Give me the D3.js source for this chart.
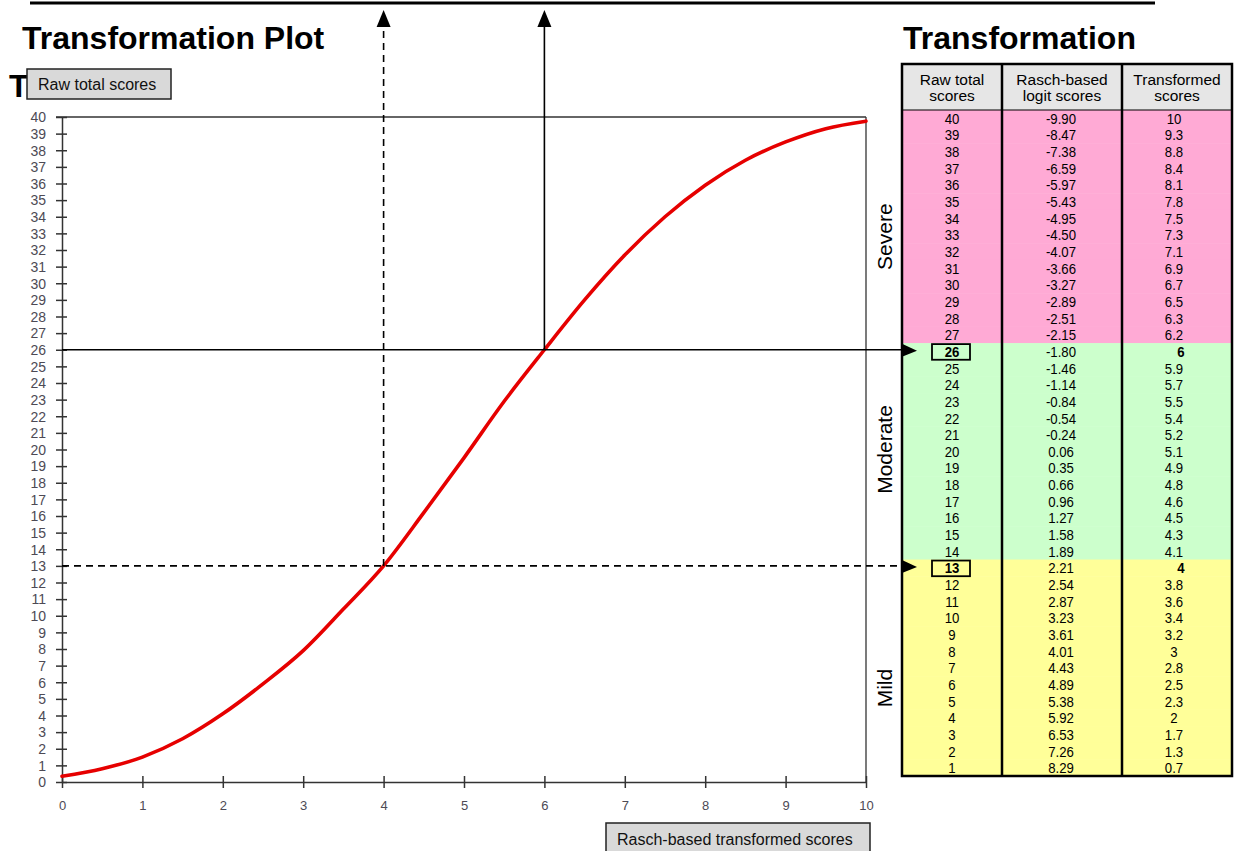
<!DOCTYPE html>
<html>
<head>
<meta charset="utf-8">
<script src="https://cdn.jsdelivr.net/npm/d3@7"></script>
<style>
  html, body { margin: 0; padding: 0; background: #fff; }
  svg { display: block; font-family: Arial, "Liberation Sans", sans-serif; }
</style>
</head>
<body>
<svg id="chart" width="1234" height="851"></svg>
<script>
// ---------------- DATA ----------------
const rawScores = [40,39,38,37,36,35,34,33,32,31,30,29,28,27,26,25,24,23,22,21,20,19,18,17,16,15,14,13,12,11,10,9,8,7,6,5,4,3,2,1];
const logitScores = ["-9.90","-8.47","-7.38","-6.59","-5.97","-5.43","-4.95","-4.50","-4.07","-3.66","-3.27","-2.89","-2.51","-2.15","-1.80","-1.46","-1.14","-0.84","-0.54","-0.24","0.06","0.35","0.66","0.96","1.27","1.58","1.89","2.21","2.54","2.87","3.23","3.61","4.01","4.43","4.89","5.38","5.92","6.53","7.26","8.29"];
const transformedScores = ["10","9.3","8.8","8.4","8.1","7.8","7.5","7.3","7.1","6.9","6.7","6.5","6.3","6.2","6","5.9","5.7","5.5","5.4","5.2","5.1","4.9","4.8","4.6","4.5","4.3","4.1","4","3.8","3.6","3.4","3.2","3","2.8","2.5","2.3","2","1.7","1.3","0.7"];
const severityNames = ["Severe","Moderate","Mild"];
const severityMin = [27,14,1];
const severityMax = [40,26,13];
const severityColors = ["#ffaad5","#ccffcc","#ffff99"];
const highlightedRaw = [26,13];           // cut-off points
const highlightedTransformed = [6,4];
const cutoffDashed = [false,true];
// transformation curve (transformed score -> raw score)
const curveX = [0,0.5,1,1.5,2,2.5,3,3.5,4,4.5,5,5.5,6,6.5,7,7.5,8,8.5,9,9.5,10];
const curveY = [0.35,0.8,1.5,2.6,4.1,5.9,7.9,10.4,13,16.2,19.5,22.9,26,29,31.7,34,35.9,37.4,38.5,39.3,39.75];
const xTicks = [0,1,2,3,4,5,6,7,8,9,10];
const yTicks = [0,1,2,3,4,5,6,7,8,9,10,11,12,13,14,15,16,17,18,19,20,21,22,23,24,25,26,27,28,29,30,31,32,33,34,35,36,37,38,39,40];
const tableHeaders = [["Raw total","scores"],["Rasch-based","logit scores"],["Transformed","scores"]];

// ---------------- LAYOUT ----------------
const svg = d3.select("#chart");
const x = d3.scaleLinear().domain([0,10]).range([62,866]);
const y = d3.scaleLinear().domain([0,40]).range([782,117]);
const axisColor = "#333";
const tickColor = "#4d4a55";

// top rule
svg.append("line").attr("x1",30).attr("x2",1155).attr("y1",3).attr("y2",3)
  .attr("stroke","#000").attr("stroke-width",3);

// titles
svg.append("text").attr("x",22).attr("y",49).attr("font-size",32).attr("font-weight","bold").text("Transformation Plot");
svg.append("text").attr("x",903).attr("y",49).attr("font-size",32).attr("font-weight","bold").text("Transformation");
svg.append("text").attr("x",9).attr("y",97).attr("font-size",32).attr("font-weight","bold").text("T");

// frame (top and right)
svg.append("line").attr("x1",x(0)-6).attr("x2",x(10)).attr("y1",y(40)).attr("y2",y(40)).attr("stroke",axisColor).attr("stroke-width",1.3);
svg.append("line").attr("x1",x(10)).attr("x2",x(10)).attr("y1",y(40)).attr("y2",y(0)).attr("stroke",axisColor).attr("stroke-width",1.3);

// axes
const yAxis = d3.axisLeft(y).tickValues(yTicks).tickSize(0).tickPadding(0).tickFormat(d3.format("d"));
const gy = svg.append("g").attr("transform",`translate(${x(0)},0)`).call(yAxis);
gy.select(".domain").attr("stroke",axisColor).attr("stroke-width",1.5);
gy.selectAll(".tick line").attr("x1",-6).attr("x2",5).attr("stroke",axisColor).attr("stroke-width",1.5);
gy.selectAll(".tick text").attr("x",-16).attr("dy","0.34em").attr("font-size",14).attr("fill",tickColor).attr("font-family","Arial, 'Liberation Sans', sans-serif");

const xAxis = d3.axisBottom(x).tickValues(xTicks).tickSize(0).tickPadding(0).tickFormat(d3.format("d"));
const gx = svg.append("g").attr("transform",`translate(0,${y(0)})`).call(xAxis);
gx.select(".domain").attr("stroke",axisColor).attr("stroke-width",1.5);
gx.selectAll(".tick line").attr("y1",-6).attr("y2",6).attr("stroke",axisColor).attr("stroke-width",1.5);
gx.selectAll(".tick text").attr("y",24).attr("dy","0.34em").attr("font-size",13).attr("fill",tickColor).attr("font-family","Arial, 'Liberation Sans', sans-serif");

// curve
const curvePts = curveX.map((d,i)=>[d,curveY[i]]);
svg.append("path").datum(curvePts)
  .attr("d", d3.line().x(d=>x(d[0])).y(d=>y(d[1])).curve(d3.curveMonotoneX))
  .attr("fill","none").attr("stroke","#e60000").attr("stroke-width",3.6).attr("stroke-linecap","round");

// ---------------- TABLE ----------------
const colEdges = [902,1002,1122,1232];
const colCenters = [952,1061,1174];
const headerTop = 64, bodyTop = 110, bodyBottom = 776;
const rowBand = d3.scaleBand().domain(rawScores).range([bodyTop, bodyBottom]);
const narrow = 0.88;

function ntext(g, cx, cy, t, size, bold, sx){
  return g.append("text").attr("transform",`translate(${cx},${cy}) scale(${sx},1)`)
    .attr("text-anchor","middle").attr("font-size",size).attr("font-weight",bold?"bold":"normal").text(t);
}

// header
svg.append("rect").attr("x",colEdges[0]).attr("y",headerTop).attr("width",colEdges[3]-colEdges[0]).attr("height",bodyTop-headerTop).attr("fill","#e6e6e6");
tableHeaders.forEach((lines,i)=>{
  lines.forEach((t,j)=>{
    ntext(svg,(colEdges[i]+colEdges[i+1])/2, 85+j*16, t, 15.5, false, 1);
  });
});

// severity row colours
rawScores.forEach(r=>{
  const k = severityMin.findIndex((m,i)=> r>=m && r<=severityMax[i]);
  svg.append("rect").attr("x",colEdges[0]).attr("y",rowBand(r)).attr("width",colEdges[3]-colEdges[0])
    .attr("height",rowBand.bandwidth()+0.5).attr("fill",severityColors[k]);
});

// cells
const rowG = svg.append("g");
rawScores.forEach((r,i)=>{
  const cy = rowBand(r)+rowBand.bandwidth()/2 + 5.5;
  const hl = highlightedRaw.indexOf(r);
  ntext(rowG, colCenters[0], cy, r, 15, hl>=0, narrow);
  ntext(rowG, colCenters[1], cy, logitScores[i], 15, false, narrow);
  ntext(rowG, colCenters[2] + (hl>=0?7:0), cy, transformedScores[i], 15, hl>=0, narrow);
  if (hl>=0) {
    rowG.append("rect").attr("x",932).attr("y",rowBand(r)+1).attr("width",38).attr("height",rowBand.bandwidth()-1)
      .attr("fill","none").attr("stroke","#000").attr("stroke-width",1.8);
  }
});

// table borders
svg.append("rect").attr("x",colEdges[0]).attr("y",headerTop).attr("width",colEdges[3]-colEdges[0]).attr("height",bodyBottom-headerTop)
  .attr("fill","none").attr("stroke","#000").attr("stroke-width",2.5);
svg.append("line").attr("x1",colEdges[0]).attr("x2",colEdges[3]).attr("y1",bodyTop).attr("y2",bodyTop).attr("stroke","#000").attr("stroke-width",1.2);
[1,2].forEach(i=>{
  svg.append("line").attr("x1",colEdges[i]).attr("x2",colEdges[i]).attr("y1",headerTop).attr("y2",bodyBottom)
    .attr("stroke","#000").attr("stroke-width",2.5);
});

// severity labels
const labelAt = [32.8,20,5.65];
severityNames.forEach((s,i)=>{
  svg.append("text").attr("transform",`translate(892,${y(labelAt[i])}) rotate(-90)`)
    .attr("text-anchor","middle").attr("font-size",21).text(s);
});

// ---------------- CUT-OFF GUIDES ----------------
highlightedRaw.forEach((r,i)=>{
  const dash = cutoffDashed[i] ? "7,5" : null;
  const yy = y(r);
  svg.append("line").attr("x1",x(0)).attr("x2",902).attr("y1",yy).attr("y2",yy)
    .attr("stroke","#000").attr("stroke-width",1.6).attr("stroke-dasharray",dash);
  svg.append("path").attr("d",`M902,${yy-6}L917,${yy+1}L902,${yy+7}Z`).attr("fill","#000");
  const xx = x(highlightedTransformed[i]);
  svg.append("line").attr("x1",xx).attr("x2",xx).attr("y1",yy).attr("y2",26)
    .attr("stroke","#000").attr("stroke-width",1.6).attr("stroke-dasharray",dash);
  svg.append("path").attr("d",`M${xx-7},27L${xx},10L${xx+7},27Z`).attr("fill","#000");
});

// ---------------- AXIS TITLE BOXES ----------------
function labelBox(bx,by,bw,bh,t){
  svg.append("rect").attr("x",bx).attr("y",by).attr("width",bw).attr("height",bh)
    .attr("fill","#d9d9d9").attr("stroke","#222").attr("stroke-width",1.5);
  svg.append("text").attr("x",bx+11).attr("y",by+bh/2+5.5).attr("font-size",16).attr("fill","#111").text(t);
}
labelBox(27,69,144,30,"Raw total scores");
labelBox(606,823,264,32,"Rasch-based transformed scores");
</script>
</body>
</html>
